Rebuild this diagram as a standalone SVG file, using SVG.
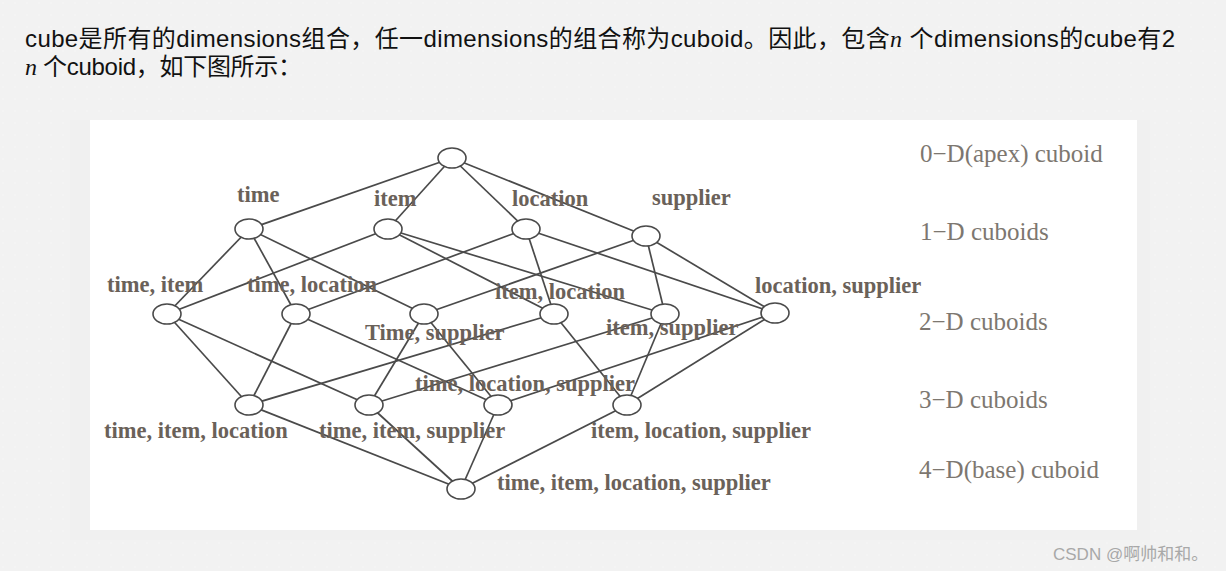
<svg xmlns="http://www.w3.org/2000/svg" width="1226" height="571" viewBox="0 0 1226 571">
  <defs>
    <pattern id="dots" width="12" height="12" patternUnits="userSpaceOnUse">
      <rect width="12" height="12" fill="#f2f2f2"/>
      <circle cx="3" cy="3" r="0.7" fill="#fafafa"/>
    </pattern>
    <style>
      .intro { font-family: "Liberation Sans", "Noto Sans CJK SC", sans-serif; font-size: 24px; fill: #111; }
      .cjk { font-family: "Noto Sans CJK SC", sans-serif; }
      .math { font-family: "Liberation Serif", serif; font-style: italic; }
      .edge { stroke: #4a4a4a; stroke-width: 1.7; fill: none; }
      .node ellipse { fill: #ffffff; stroke: #4a4a4a; stroke-width: 1.6; }
      .lbl { font-family: "Liberation Serif", "Times New Roman", serif; font-weight: bold; font-size: 22.5px; fill: #6a6159; }
      .lvl { font-family: "Liberation Serif", "Times New Roman", serif; font-size: 25px; fill: #7d7770; }
      .wm { font-family: "Liberation Sans", "Noto Sans CJK SC", sans-serif; font-size: 17px; fill: #a8a8a8; }
    </style>
  </defs>

  <rect x="0" y="0" width="1226" height="571" fill="url(#dots)"/>
  <rect x="70" y="120" width="1080" height="420" fill="#f0f0f0"/>
  <rect x="90" y="120" width="1047" height="410" fill="#ffffff"/>

  <!-- intro text -->
  <text class="intro" x="25" y="47" textLength="1150" lengthAdjust="spacing">cube<tspan class="cjk">是所有的</tspan>dimensions<tspan class="cjk">组合，任一</tspan>dimensions<tspan class="cjk">的组合称为</tspan>cuboid<tspan class="cjk">。因此，包含</tspan><tspan class="math">n</tspan> <tspan class="cjk">个</tspan>dimensions<tspan class="cjk">的</tspan>cube<tspan class="cjk">有</tspan>2</text>
  <text class="intro" x="25" y="75" textLength="277" lengthAdjust="spacing"><tspan class="math">n</tspan> <tspan class="cjk">个</tspan>cuboid<tspan class="cjk">，如下图所示：</tspan></text>

  <!-- connectors -->
  <g id="connectors" class="edge">
    <line x1="452" y1="158" x2="249" y2="229"/>
    <line x1="452" y1="158" x2="388" y2="229"/>
    <line x1="452" y1="158" x2="526" y2="229"/>
    <line x1="452" y1="158" x2="646" y2="236"/>

    <line x1="249" y1="229" x2="167" y2="314"/>
    <line x1="249" y1="229" x2="296" y2="314"/>
    <line x1="249" y1="229" x2="424" y2="314"/>
    <line x1="388" y1="229" x2="167" y2="314"/>
    <line x1="388" y1="229" x2="554" y2="314"/>
    <line x1="388" y1="229" x2="665" y2="314"/>
    <line x1="526" y1="229" x2="296" y2="314"/>
    <line x1="526" y1="229" x2="554" y2="314"/>
    <line x1="526" y1="229" x2="775" y2="313"/>
    <line x1="646" y1="236" x2="424" y2="314"/>
    <line x1="646" y1="236" x2="665" y2="314"/>
    <line x1="646" y1="236" x2="775" y2="313"/>

    <line x1="167" y1="314" x2="249" y2="405"/>
    <line x1="167" y1="314" x2="369" y2="405"/>
    <line x1="296" y1="314" x2="249" y2="405"/>
    <line x1="296" y1="314" x2="498" y2="405"/>
    <line x1="424" y1="314" x2="369" y2="405"/>
    <line x1="424" y1="314" x2="498" y2="405"/>
    <line x1="554" y1="314" x2="249" y2="405"/>
    <line x1="554" y1="314" x2="627" y2="405"/>
    <line x1="665" y1="314" x2="369" y2="405"/>
    <line x1="665" y1="314" x2="627" y2="405"/>
    <line x1="775" y1="313" x2="498" y2="405"/>
    <line x1="775" y1="313" x2="627" y2="405"/>

    <line x1="249" y1="405" x2="461" y2="489"/>
    <line x1="369" y1="405" x2="461" y2="489"/>
    <line x1="498" y1="405" x2="461" y2="489"/>
    <line x1="627" y1="405" x2="461" y2="489"/>
  </g>

  <!-- nodes -->
  <g id="apex" class="node"><ellipse cx="452" cy="158" rx="14" ry="10"/></g>
  <g id="time" class="node"><ellipse cx="249" cy="229" rx="14" ry="10"/><text class="lbl" x="237" y="202">time</text></g>
  <g id="item" class="node"><ellipse cx="388" cy="229" rx="14" ry="10"/><text class="lbl" x="374" y="206">item</text></g>
  <g id="location" class="node"><ellipse cx="526" cy="229" rx="14" ry="10"/><text class="lbl" x="512" y="206">location</text></g>
  <g id="supplier" class="node"><ellipse cx="646" cy="236" rx="14" ry="10"/><text class="lbl" x="652" y="205">supplier</text></g>

  <g id="time-item" class="node"><ellipse cx="167" cy="314" rx="14" ry="10"/><text class="lbl" x="107" y="292">time, item</text></g>
  <g id="time-location" class="node"><ellipse cx="296" cy="314" rx="14" ry="10"/><text class="lbl" x="247" y="292">time, location</text></g>
  <g id="time-supplier" class="node"><ellipse cx="424" cy="314" rx="14" ry="10"/><text class="lbl" x="365" y="340">Time, supplier</text></g>
  <g id="item-location" class="node"><ellipse cx="554" cy="314" rx="14" ry="10"/><text class="lbl" x="495" y="299">item, location</text></g>
  <g id="item-supplier" class="node"><ellipse cx="665" cy="314" rx="14" ry="10"/><text class="lbl" x="606" y="335">item, supplier</text></g>
  <g id="location-supplier" class="node"><ellipse cx="775" cy="313" rx="14" ry="10"/><text class="lbl" x="755" y="293">location, supplier</text></g>

  <g id="time-item-location" class="node"><ellipse cx="249" cy="405" rx="14" ry="10"/><text class="lbl" x="104" y="438">time, item, location</text></g>
  <g id="time-item-supplier" class="node"><ellipse cx="369" cy="405" rx="14" ry="10"/><text class="lbl" x="319" y="438">time, item, supplier</text></g>
  <g id="time-location-supplier" class="node"><ellipse cx="498" cy="405" rx="14" ry="10"/><text class="lbl" x="415" y="391">time, location, supplier</text></g>
  <g id="item-location-supplier" class="node"><ellipse cx="627" cy="405" rx="14" ry="10"/><text class="lbl" x="591" y="438">item, location, supplier</text></g>

  <g id="base" class="node"><ellipse cx="461" cy="489" rx="14" ry="10"/><text class="lbl" x="497" y="490">time, item, location, supplier</text></g>

  <!-- level labels -->
  <g id="levels">
    <text class="lvl" x="920" y="162">0−D(apex) cuboid</text>
    <text class="lvl" x="920" y="240">1−D cuboids</text>
    <text class="lvl" x="919" y="330">2−D cuboids</text>
    <text class="lvl" x="919" y="408">3−D cuboids</text>
    <text class="lvl" x="919" y="478">4−D(base) cuboid</text>
  </g>

  <text class="wm" x="1053" y="560">CSDN @啊帅和和。</text>
</svg>
